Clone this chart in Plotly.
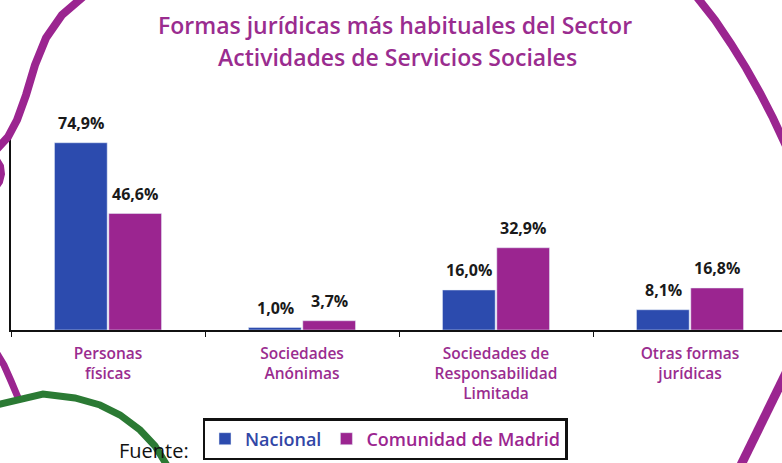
import plotly.graph_objects as go

categories = ["Personas<br>físicas", "Sociedades<br>Anónimas",
              "Sociedades de<br>Responsabilidad<br>Limitada", "Otras formas<br>jurídicas"]
nacional = [74.9, 1.0, 16.0, 8.1]
madrid = [46.6, 3.7, 32.9, 16.8]
series_names = ["Nacional", "Comunidad de Madrid"]

BLUE = "#2C4BAE"
PURPLE = "#9B2590"
TITLE_PURPLE = "#9A2C8F"
GREEN = "#2B7A34"

W, H = 782, 463
ML, MR, MT, MB = 11, 0, 128, 133
PW, PH = W - ML - MR, H - MT - MB


def px2paper(x, y):
    return (x - ML) / PW, (H - MB - y) / PH


def P(x, y):
    return "%.4f,%.4f" % px2paper(x, y)


def poly(pts):
    return "M " + " L ".join(P(x, y) for x, y in pts)


fig = go.Figure()
fig.add_trace(go.Bar(x=categories, y=nacional,
                     name="<span style='color:#3247A6'>%s</span>" % series_names[0],
                     marker=dict(color=BLUE)))
fig.add_trace(go.Bar(x=categories, y=madrid,
                     name="<span style='color:%s'>%s</span>" % (PURPLE, series_names[1]),
                     marker=dict(color=PURPLE)))

annotations = []
for vals, shift in ((nacional, -27), (madrid, 27)):
    for c, v in zip(categories, vals):
        annotations.append(dict(x=c, y=v, xref="x", yref="y", xshift=shift, yshift=7,
                                xanchor="center", yanchor="bottom", showarrow=False,
                                text="<b>%s%%</b>" % ("%.1f" % v).replace(".", ","),
                                font=dict(family="Open Sans", size=16, color="#1a1a1a")))


def text_px(x, y, text, size, color, weight="normal"):
    px, py = px2paper(x, y)
    return dict(x=px, y=py, xref="paper", yref="paper", xanchor="center", yanchor="middle",
                showarrow=False, text=text,
                font=dict(family="Open Sans", size=size, color=color, weight=weight))


annotations.append(text_px(395, 25, "Formas jurídicas más habituales del Sector", 23, TITLE_PURPLE, 600))
annotations.append(text_px(397, 57, "Actividades de Servicios Sociales", 23, TITLE_PURPLE, 600))
annotations.append(text_px(154, 450, "Fuente:", 20, "#111111"))

shapes = [
    # purple decorative curves
    dict(type="path", xref="paper", yref="paper", line=dict(color=PURPLE, width=8), layer="above",
         path=poly([(84, -4), (62, 15), (46, 38), (35, 65), (26, 95), (17, 120), (8, 137), (-4, 150)])),
    dict(type="path", xref="paper", yref="paper", line=dict(color=PURPLE, width=6), layer="above",
         path=poly([(-4, 158), (1, 166), (2, 174), (0, 182), (-4, 188)])),
    dict(type="path", xref="paper", yref="paper", line=dict(color=PURPLE, width=7), layer="above",
         path=poly([(-4, 352), (4, 365), (11, 381), (19, 400)])),
    dict(type="path", xref="paper", yref="paper", line=dict(color=PURPLE, width=8), layer="above",
         path=poly([(696, -4), (715, 20), (731, 44), (746, 68), (760, 93), (773, 118), (786, 146)])),
    dict(type="path", xref="paper", yref="paper", line=dict(color=PURPLE, width=9), layer="above",
         path=poly([(786, 373), (740, 467)])),
    # green curve
    dict(type="path", xref="paper", yref="paper", line=dict(color=GREEN, width=7), layer="above",
         path=poly([(-4, 405), (43, 394), (75, 398), (100, 405), (120, 415), (140, 430),
                    (155, 446), (168, 467)])),
]

lx, ly = px2paper(385, 439)
fig.update_layout(
    width=W, height=H,
    margin=dict(l=ML, r=MR, t=MT, b=MB, autoexpand=False),
    paper_bgcolor="white", plot_bgcolor="white",
    barmode="group", bargap=0.44, bargroupgap=0.03,
    showlegend=True,
    legend=dict(orientation="h", x=lx, y=ly, xanchor="center", yanchor="middle",
                bordercolor="#111111", borderwidth=2.5, bgcolor="white",
                font=dict(family="Open Sans", size=18, weight=600), itemwidth=30),
    annotations=annotations,
    shapes=shapes,
    xaxis=dict(range=[-0.5, -0.5 + PW / 194], showline=True, linecolor="#111111", linewidth=2,
               ticks="outside", tickson="boundaries", ticklen=5, tickcolor="#111111",
               ticklabelstandoff=8,
               tickfont=dict(family="Open Sans", size=15.5, color=TITLE_PURPLE, weight=600),
               showgrid=False, fixedrange=True, automargin=False),
    yaxis=dict(range=[0, PH / 2.5], showline=True, linecolor="#111111", linewidth=2,
               showticklabels=False, ticks="", showgrid=False, zeroline=False,
               fixedrange=True, automargin=False),
)

fig.write_html("out.html", config={"displayModeBar": False},
               post_script="document.body.style.margin='0';")
